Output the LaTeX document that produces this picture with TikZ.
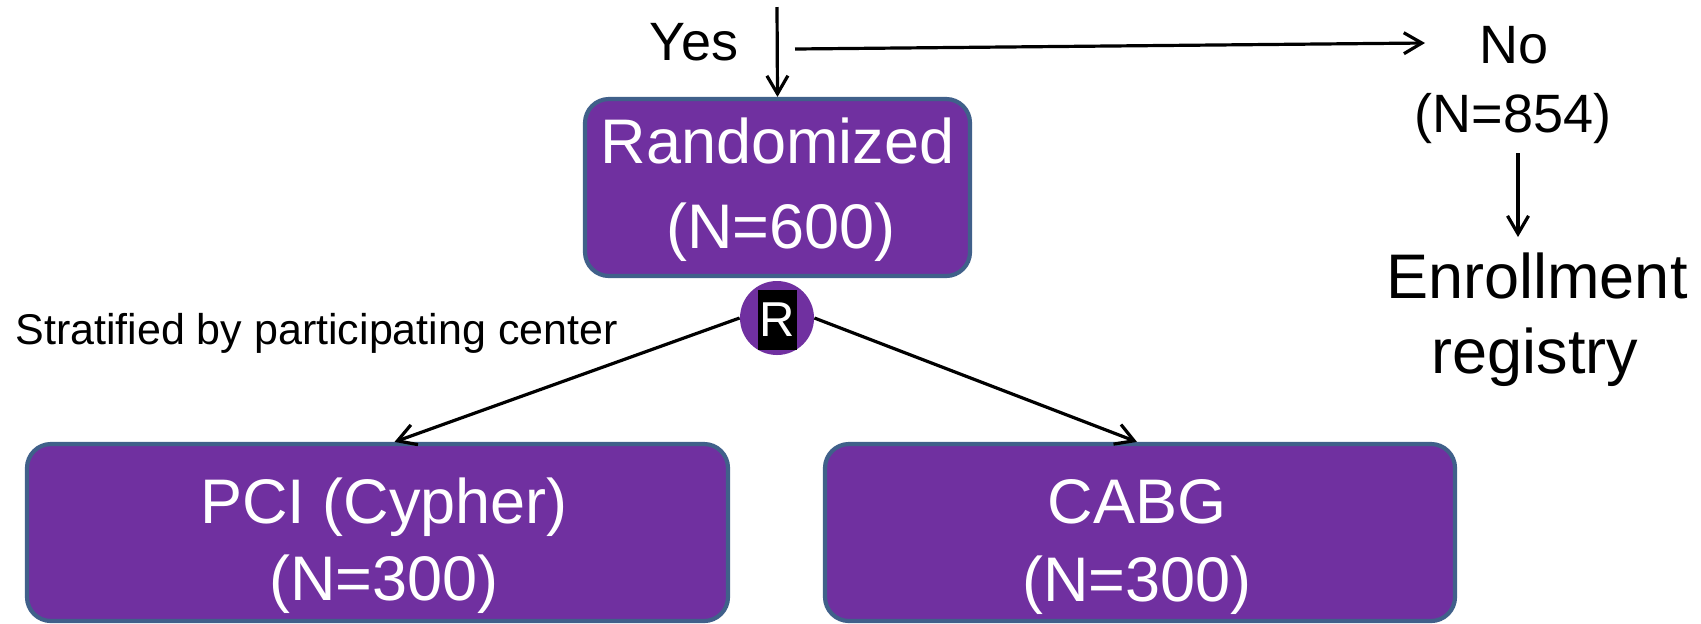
\documentclass[tikz,border=0pt]{standalone}
\usepackage{fontspec}
\setmainfont{Liberation Sans}
\usetikzlibrary{arrows.meta}
\definecolor{boxpurple}{RGB}{112,48,160}
\definecolor{boxedge}{RGB}{64,96,138}
\begin{document}
\begin{tikzpicture}[x=0.5pt,y=-0.5pt,
  box/.style={draw=boxedge, line width=2.1pt, fill=boxpurple, rounded corners=12pt, inner sep=0pt},
  whitetxt/.style={font=\fontsize{31.5}{38}\selectfont, text=white, anchor=base, inner sep=0pt},
  blacktxt/.style={font=\fontsize{31.5}{38}\selectfont, text=black, anchor=base, inner sep=0pt},
  midtxt/.style={font=\fontsize{27}{32}\selectfont, text=black, anchor=base, inner sep=0pt},
  smalltxt/.style={font=\fontsize{21.5}{26}\selectfont, text=black, anchor=base west, inner sep=0pt},
  conn/.style={line width=1.6pt, -{Straight Barb[length=9pt,width=10.5pt]}}
]
\useasboundingbox (0,0) rectangle (1701,623);
\fill[white] (0,0) rectangle (1701,623);

% boxes
\node[box, minimum width=192.5pt, minimum height=88.5pt] (rand) at (777.5,187.5) {};
\node[box, minimum width=350.5pt, minimum height=88.5pt] (pci) at (377.5,532.5) {};
\node[box, minimum width=315pt, minimum height=88.5pt] (cabg) at (1140,532.5) {};

% box texts
\node[whitetxt] (randa) at (777.5,163) {Randomized};
\node[whitetxt] (randb) at (781,248) {(N=600)};
\node[whitetxt] (pcia) at (384,523) {PCI (Cypher)};
\node[whitetxt] (pcib) at (384,600) {(N=300)};
\node[whitetxt] (cabga) at (1137,523) {CABG};
\node[whitetxt] (cabgb) at (1137,601) {(N=300)};

% R marker
\node[circle, fill=boxpurple, minimum size=37pt, inner sep=0pt] (rnode) at (777,318) {};
\node[fill=black, text=white, font=\fontsize{24.5}{28}\selectfont, inner sep=0pt,
      minimum width=19.5pt, minimum height=30pt] (rlab) at (777.5,320) {R};

% free texts
\node[midtxt] (yes) at (694,60) {Yes};
\node[midtxt] (no) at (1514,63) {No};
\node[midtxt] (non) at (1513,132) {(N=854)};
\node[blacktxt] (enra) at (1537,298) {Enrollment};
\node[blacktxt] (enrb) at (1535,373) {registry};
\node[smalltxt] (strat) at (15,344) {Stratified by participating center};

% connectors
\coordinate (topin) at (777,7);
\coordinate (hs) at (795,49);
\coordinate (he) at (1425,43);
\coordinate (ns) at (1518,153);
\coordinate (ne) at (1518,237);
\draw[conn] (topin) -- (rand.north);
\draw[conn] (hs) -- (he);
\draw[conn] (ns) -- (ne);
\draw[conn] (rnode.west) -- ([xshift=8.5pt]pci.north);
\draw[conn] (rnode.east) -- ([xshift=-1.5pt]cabg.north);
\end{tikzpicture}
\end{document}
